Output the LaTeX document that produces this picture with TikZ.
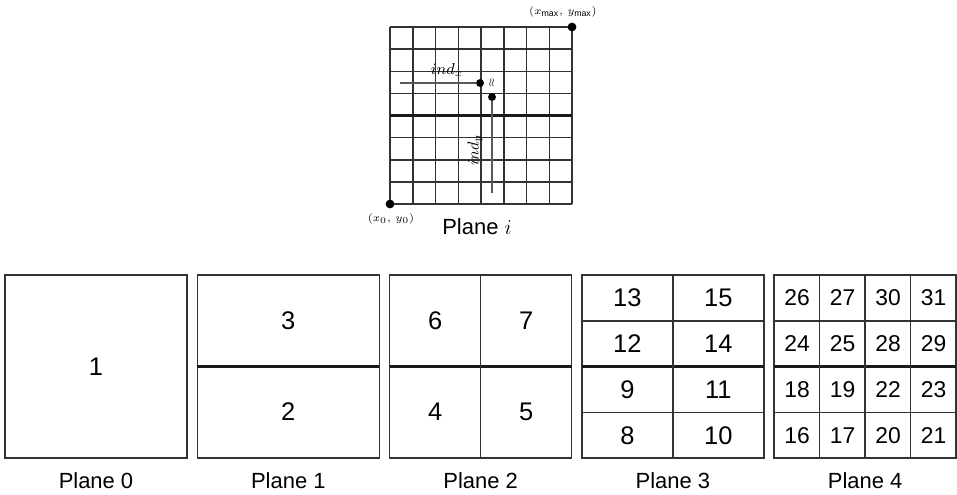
\documentclass[tikz,border=0pt]{standalone}
\usepackage{fontspec}
\setmainfont{Liberation Sans}
\usetikzlibrary{positioning}

\begin{document}
\begin{tikzpicture}[
    x=0.02cm,y=-0.02cm,
    cell/.style={draw=black!80,line width=0.85pt},
    split/.style={draw=black!90,line width=1.5pt},
    guide/.style={draw=black!65,line width=0.7pt},
    dot/.style={circle,fill=black,inner sep=0pt,minimum size=5pt},
    bignum/.style={font=\fontsize{14.5}{14.5}\selectfont},
    smallnum/.style={font=\fontsize{13}{13}\selectfont},
    caption/.style={font=\fontsize{12.5}{12.5}\selectfont}]
  \useasboundingbox (0,0) rectangle (957,494);

  % ---- top: plane i with the index grid ----
  \foreach \k in {0,...,8} {
    \draw[cell] ({390+22.75*\k},27) -- ({390+22.75*\k},204);
    \draw[cell] (390,{27+22.125*\k}) -- (572,{27+22.125*\k});
  }
  \draw[split] (390,115.5) -- (572,115.5);
  \node[dot] (pmin) at (390,204) {};
  \node[dot] (pmax) at (572,27) {};
  \node[font=\fontsize{6}{6}\selectfont] (pminlbl) at (391,219) {$(x_0,\,y_0)$};
  \node[font=\fontsize{6}{6}\selectfont] (pmaxlbl) at (563,12) {$(x_{\mathrm{max}},\,y_{\mathrm{max}})$};
  \node[dot,minimum size=4.5pt] (cx) at (480,83) {};
  \node[dot,minimum size=4.5pt] (cy) at (492,97) {};
  \coordinate (xstart) at (400,83);
  \coordinate (yend) at (492,193);
  \draw[guide] (xstart) -- (cx);
  \draw[guide] (cy) -- (yend);
  \node[font=\small] (indx) at (447,70) {$ind_x$};
  \node[font=\small,rotate=90] (indy) at (475,150) {$ind_y$};
  \node[font=\tiny,rotate=90] (delta) at (492,83) {$\approx$};
  \node[caption] (planei) at (477,227) {Plane $i$};

  % ---- bottom: planes 0..4 ----
  \foreach \p in {0,...,4} {
    \draw[cell] ({5+192.3*\p},275) rectangle +(182,183);
    \node[caption] (lbl\p) at ({96+192.3*\p},481) {Plane \p};
  }
  % plane 0
  \node[bignum] (n1) at (96,366.5) {1};
  % plane 1
  \draw[split] (197.3,366.5) -- (379.3,366.5);
  \node[bignum] (n3) at (288.3,321) {3};
  \node[bignum] (n2) at (288.3,412) {2};
  % plane 2
  \draw[split] (389.6,366.5) -- (571.6,366.5);
  \draw[cell] (480.6,275) -- (480.6,458);
  \foreach \v/\cx/\cy in {6/435.1/321,7/526.1/321,4/435.1/412,5/526.1/412}
    \node[bignum] (n\v) at (\cx,\cy) {\v};
  % plane 3
  \draw[cell] (581.9,320.75) -- (763.9,320.75);
  \draw[cell] (581.9,412.25) -- (763.9,412.25);
  \draw[split] (581.9,366.5) -- (763.9,366.5);
  \draw[cell] (672.9,275) -- (672.9,458);
  \foreach \v/\c/\r in {13/0/0,15/1/0,12/0/1,14/1/1,9/0/2,11/1/2,8/0/3,10/1/3}
    \node[bignum] (n\v) at ({627.4+91*\c},{298+45.75*\r}) {\v};
  % plane 4
  \draw[cell] (774.2,320.75) -- (956.2,320.75);
  \draw[cell] (774.2,412.25) -- (956.2,412.25);
  \draw[split] (774.2,366.5) -- (956.2,366.5);
  \foreach \k in {1,2,3}
    \draw[cell] ({774.2+45.5*\k},275) -- ({774.2+45.5*\k},458);
  \foreach \v/\c/\r in {26/0/0,27/1/0,30/2/0,31/3/0,24/0/1,25/1/1,28/2/1,29/3/1,
                        18/0/2,19/1/2,22/2/2,23/3/2,16/0/3,17/1/3,20/2/3,21/3/3}
    \node[smallnum] (n\v) at ({797+45.5*\c},{298+45.75*\r}) {\v};
\end{tikzpicture}
\end{document}
